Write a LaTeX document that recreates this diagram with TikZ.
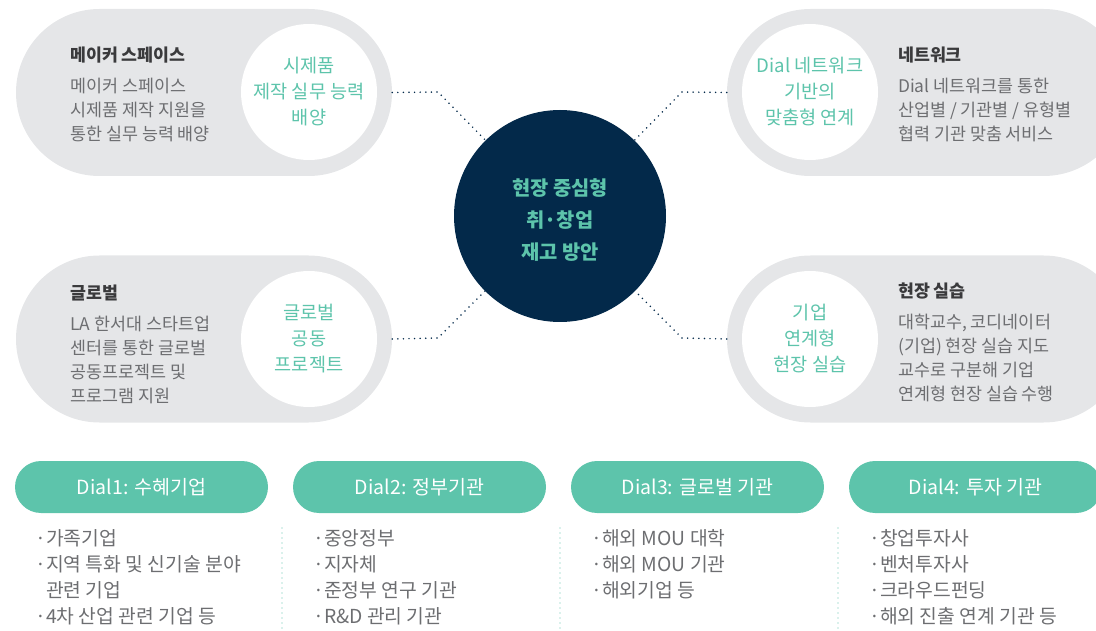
\documentclass[tikz,border=0pt]{standalone}
\usepackage{fontspec}
\setmainfont{Noto Sans CJK KR}
\usetikzlibrary{shapes.misc}
\definecolor{pillgray}{HTML}{E5E6E8}
\definecolor{teal}{HTML}{5DC4AB}
\definecolor{navy}{HTML}{03294A}
\definecolor{bodygray}{HTML}{6D6E71}
\definecolor{titlegray}{HTML}{3A3A3C}
\begin{document}
\begin{tikzpicture}[x=1pt,y=-1pt,
  pill/.style={rounded rectangle, fill=pillgray, minimum height=167pt, inner sep=0pt},
  wcirc/.style={circle, fill=white, minimum size=136pt, inner sep=0pt, align=center, text=teal, font=\fontsize{18.6}{26}\selectfont},
  ttl/.style={anchor=west, inner sep=0pt, text=titlegray, font=\fontsize{17.3}{24}\selectfont\bfseries},
  body/.style={anchor=north west, inner sep=0pt, align=left, text=bodygray, font=\fontsize{17.4}{24}\selectfont},
  dotline/.style={navy, line width=1.7pt, dash pattern=on 0pt off 5.6pt, line cap=round},
  sepline/.style={teal, line width=1.4pt, dash pattern=on 0pt off 5pt, line cap=round},
  dialpill/.style={rounded rectangle, fill=teal, minimum width=253pt, minimum height=52pt, inner sep=0pt, text=white, font=\fontsize{19.5}{24}\selectfont},
  item/.style={anchor=north west, inner sep=0pt, align=left, text=bodygray, font=\fontsize{19.3}{26}\selectfont}
]
\useasboundingbox (0,0) rectangle (1096,631);

% pills
\node[pill, minimum width=376pt] (p1) at (204,92.5) {};
\node[pill, minimum width=400pt] (p2) at (927,92.5) {};
\node[pill, minimum width=376pt] (p3) at (204,339) {};
\node[pill, minimum width=400pt] (p4) at (927,339) {};

% white circles
\node[wcirc] (c1) at (309,92) {시제품\\제작 실무 능력\\배양};
\node[wcirc] (c2) at (810,92) {Dial 네트워크\\기반의\\맞춤형 연계};
\node[wcirc] (c3) at (309,339) {글로벌\\공동\\프로젝트};
\node[wcirc] (c4) at (810,339) {기업\\연계형\\현장 실습};

% center
\node[circle, fill=navy, minimum size=212pt, inner sep=0pt] (ctr) at (560,216) {};
\node[align=center, inner sep=0pt, text=teal, font=\fontsize{19.8}{32}\selectfont\bfseries] (ctrtext) at (560,220) {현장 중심형\\취·창업\\재고 방안};

% connectors
\coordinate (k1) at (438,92);
\coordinate (k2) at (682,92);
\coordinate (k3) at (438,338);
\coordinate (k4) at (682,338);
\draw[dotline] (p1.east) -- (k1) -- (ctr);
\draw[dotline] (p2.west) -- (k2) -- (ctr);
\draw[dotline] (p3.east) -- (k3) -- (ctr);
\draw[dotline] (p4.west) -- (k4) -- (ctr);

% texts
\node[ttl] (t1) at (70,55) {메이커 스페이스};
\node[body] (b1) at (70,75.5) {\strut 메이커 스페이스\\시제품 제작 지원을\\통한 실무 능력 배양};
\node[ttl] (t2) at (898,55) {네트워크};
\node[body] (b2) at (898,75.5) {\strut Dial 네트워크를 통한\\산업별 / 기관별 / 유형별\\협력 기관 맞춤 서비스};
\node[ttl] (t3) at (70,293) {글로벌};
\node[body] (b3) at (70,313.5) {\strut LA 한서대 스타트업\\센터를 통한 글로벌\\공동프로젝트 및\\프로그램 지원};
\node[ttl] (t4) at (898,291) {현장 실습};
\node[body] (b4) at (898,311.5) {\strut 대학교수, 코디네이터\\(기업) 현장 실습 지도\\교수로 구분해 기업\\연계형 현장 실습 수행};

% dial pills
\node[dialpill] (d1) at (141.5,487) {Dial1: 수혜기업};
\node[dialpill] (d2) at (419.5,487) {Dial2: 정부기관};
\node[dialpill] (d3) at (697.5,487) {Dial3: 글로벌 기관};
\node[dialpill] (d4) at (975.5,487) {Dial4: 투자 기관};

% separators
\coordinate (s1a) at (282,528); \coordinate (s1b) at (282,631);
\coordinate (s2a) at (560,528); \coordinate (s2b) at (560,631);
\coordinate (s3a) at (838,528); \coordinate (s3b) at (838,631);
\draw[sepline] (s1a) -- (s1b);
\draw[sepline] (s2a) -- (s2b);
\draw[sepline] (s3a) -- (s3b);

% items
\node[item] (i1) at (35,527) {\strut·가족기업\\·지역 특화 및 신기술 분야\\\hphantom{·}관련 기업\\·4차 산업 관련 기업 등};
\node[item] (i2) at (313,527) {\strut·중앙정부\\·지자체\\·준정부 연구 기관\\·R\&D 관리 기관};
\node[item] (i3) at (591,527) {\strut·해외 MOU 대학\\·해외 MOU 기관\\·해외기업 등};
\node[item] (i4) at (869,527) {\strut·창업투자사\\·벤처투자사\\·크라우드펀딩\\·해외 진출 연계 기관 등};
\end{tikzpicture}
\end{document}
